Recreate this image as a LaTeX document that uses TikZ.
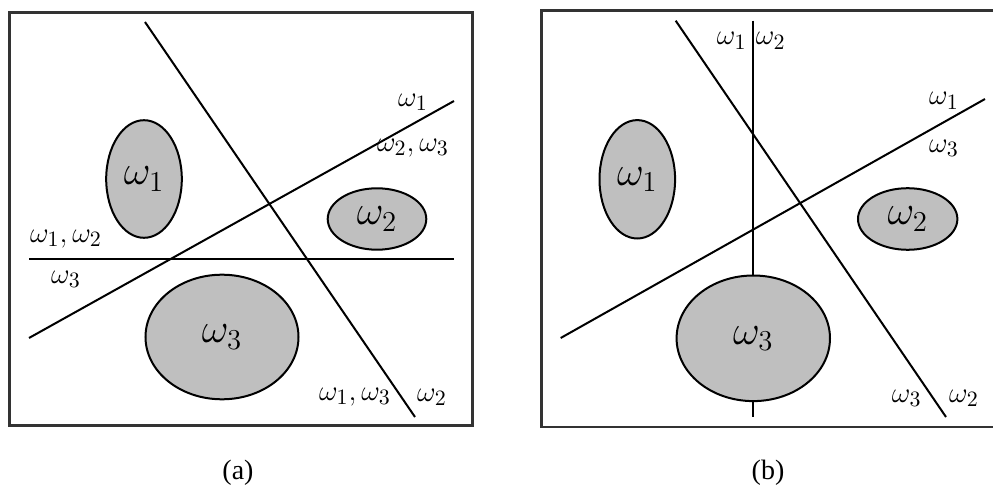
\documentclass[tikz,border=0pt]{standalone}
\usepackage{fontspec}
\newfontfamily\capfont{Liberation Serif}
\usetikzlibrary{shapes.geometric}
\tikzset{
  region/.style={draw, line width=1pt, fill=black!25, ellipse, inner sep=0pt, font=\fontsize{19.5}{23}\selectfont},
  side/.style={inner sep=0pt, font=\fontsize{15}{18}\selectfont},
  border/.style={line width=1pt},
  panel/.style={line width=1.3pt, draw=black!80},
  caption/.style={font=\capfont\fontsize{14}{17}\selectfont}
}
\begin{document}
\begin{tikzpicture}[x=0.5pt,y=-0.5pt]
\useasboundingbox (0,0) rectangle (993,492);

% (a)
\draw[panel] (9.5,12.7) rectangle (472.7,425.7);
\coordinate (a1s) at (145,22);   \coordinate (a1e) at (415,417);
\coordinate (a2s) at (29,338);   \coordinate (a2e) at (454,101);
\coordinate (a3s) at (29,259);   \coordinate (a3e) at (454,259);
\draw[border] (a1s) -- (a1e);
\draw[border] (a2s) -- (a2e);
\draw[border] (a3s) -- (a3e);

\node[region, minimum width=37.8pt, minimum height=58.8pt] (aw1) at (144,179) {$\omega_1$};
\node[region, minimum width=49.3pt, minimum height=30.7pt] (aw2) at (377,219) {$\omega_2$};
\node[region, minimum width=76.5pt, minimum height=62.3pt] (aw3) at (222,337) {$\omega_3$};

\node[side] (la1) at (413,102) {$\omega_1$};
\node[side] (la23) at (413,148) {$\omega_2,\omega_3$};
\node[side] (la12) at (66,239) {$\omega_1,\omega_2$};
\node[side] (la3) at (66,279) {$\omega_3$};
\node[side] (lb13) at (355,397) {$\omega_1,\omega_3$};
\node[side] (lb2) at (432,397) {$\omega_2$};

\node[caption] (capa) at (238,473) {(a)};

% (b)
\draw[panel] (541.7,10.7) rectangle (996,427);
\coordinate (b1s) at (675.7,20.7); \coordinate (b1e) at (946,417);
\coordinate (b2s) at (560.7,338);  \coordinate (b2e) at (985,99);
\coordinate (b3s) at (753.3,20.7); \coordinate (b3e) at (753.3,417);
\draw[border] (b1s) -- (b1e);
\draw[border] (b2s) -- (b2e);
\draw[border] (b3s) -- (b3e);

\node[region, minimum width=37.8pt, minimum height=59.2pt] (bw1) at (637.3,179.3) {$\omega_1$};
\node[region, minimum width=49.7pt, minimum height=30.8pt] (bw2) at (907.7,219) {$\omega_2$};
\node[region, minimum width=76.7pt, minimum height=62.8pt] (bw3) at (753.3,338.3) {$\omega_3$};

\node[side] (lv1) at (731.7,40.7) {$\omega_1$};
\node[side] (lv2) at (770.7,40.7) {$\omega_2$};
\node[side] (lr1) at (944,100.7) {$\omega_1$};
\node[side] (lr3) at (944,148) {$\omega_3$};
\node[side] (ls3) at (906.7,398) {$\omega_3$};
\node[side] (ls2) at (964,398) {$\omega_2$};

\node[caption] (capb) at (768,473) {(b)};
\end{tikzpicture}
\end{document}
